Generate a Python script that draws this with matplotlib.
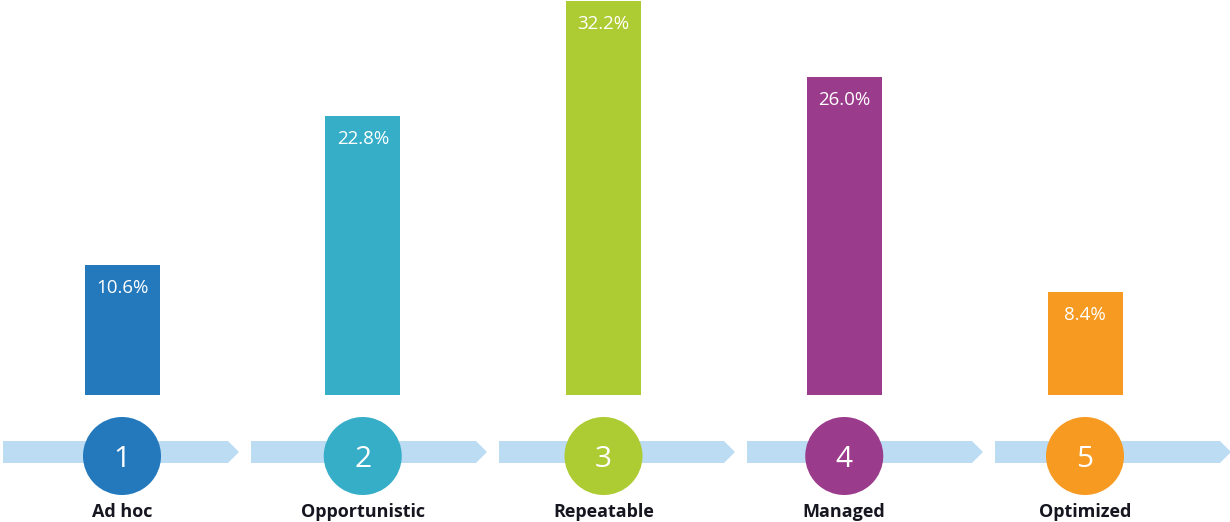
import matplotlib
matplotlib.use("Agg")
import matplotlib.pyplot as plt
from matplotlib.patches import Polygon

categories = ["Ad hoc", "Opportunistic", "Repeatable", "Managed", "Optimized"]
values = [10.6, 22.8, 32.2, 26.0, 8.4]
steps = ["1", "2", "3", "4", "5"]
colors = ["#2479BD", "#37AEC8", "#ADCB32", "#9B3B8C", "#F79A21"]
band_color = "#BBDCF2"

W, H, DPI = 1230, 522, 100
fig = plt.figure(figsize=(W / DPI, H / DPI), dpi=DPI)
fig.patch.set_facecolor("white")

# background band axes (pixel coordinates)
axb = fig.add_axes([0, 0, 1, 1], zorder=0)
axb.set_xlim(0, W)
axb.set_ylim(H, 0)
axb.axis("off")
seg_start, seg_step, seg_len, tip = 3, 248, 236, 11
y0, y1 = 441, 463
for i in range(len(categories)):
    x0 = seg_start + i * seg_step
    x1 = x0 + seg_len
    poly = Polygon([(x0, y0), (x1 - tip, y0), (x1, (y0 + y1) / 2),
                    (x1 - tip, y1), (x0, y1)], closed=True,
                   facecolor=band_color, edgecolor="none")
    axb.add_patch(poly)

# main axes
ax = fig.add_axes([0, 0, 1, 1], zorder=1)
ax.set_facecolor("none")
px_per_unit = 12.25
spacing = 240.75
x_first = 122
base_px = H - 395  # bar baseline from bottom
ax.set_xlim(-x_first / spacing, 4 + (W - 1085) / spacing)
ax.set_ylim(-base_px / px_per_unit, (H - base_px) / px_per_unit)
ax.axis("off")

xs = list(range(len(categories)))
bar_w = 75 / spacing
ax.bar(xs, values, width=bar_w, color=colors, linewidth=0)

font = "Open Sans"
pt = 72 / DPI
for x, v in zip(xs, values):
    ax.annotate(f"{v:.1f}%", (x, v), xytext=(0, -28 * pt),
                textcoords="offset points", ha="center", va="baseline",
                color="white", fontsize=13.5, family=font)

circle_y = -(456 - 395) / px_per_unit
d_pt = 78 * pt
ax.scatter(xs, [circle_y] * len(xs), s=d_pt ** 2, c=colors, linewidths=0, zorder=3)
for x, s in zip(xs, steps):
    ax.annotate(s, (x, circle_y), xytext=(0, -11 * pt), textcoords="offset points",
                ha="center", va="baseline", color="white",
                fontsize=21.5, family=font, zorder=4)

label_y = -(517 - 395) / px_per_unit
for x, c in zip(xs, categories):
    ax.text(x, label_y, c, ha="center", va="baseline", color="#161620",
            fontsize=13, family=font, fontweight="bold", zorder=4)

fig.savefig("out.png", dpi=DPI)
